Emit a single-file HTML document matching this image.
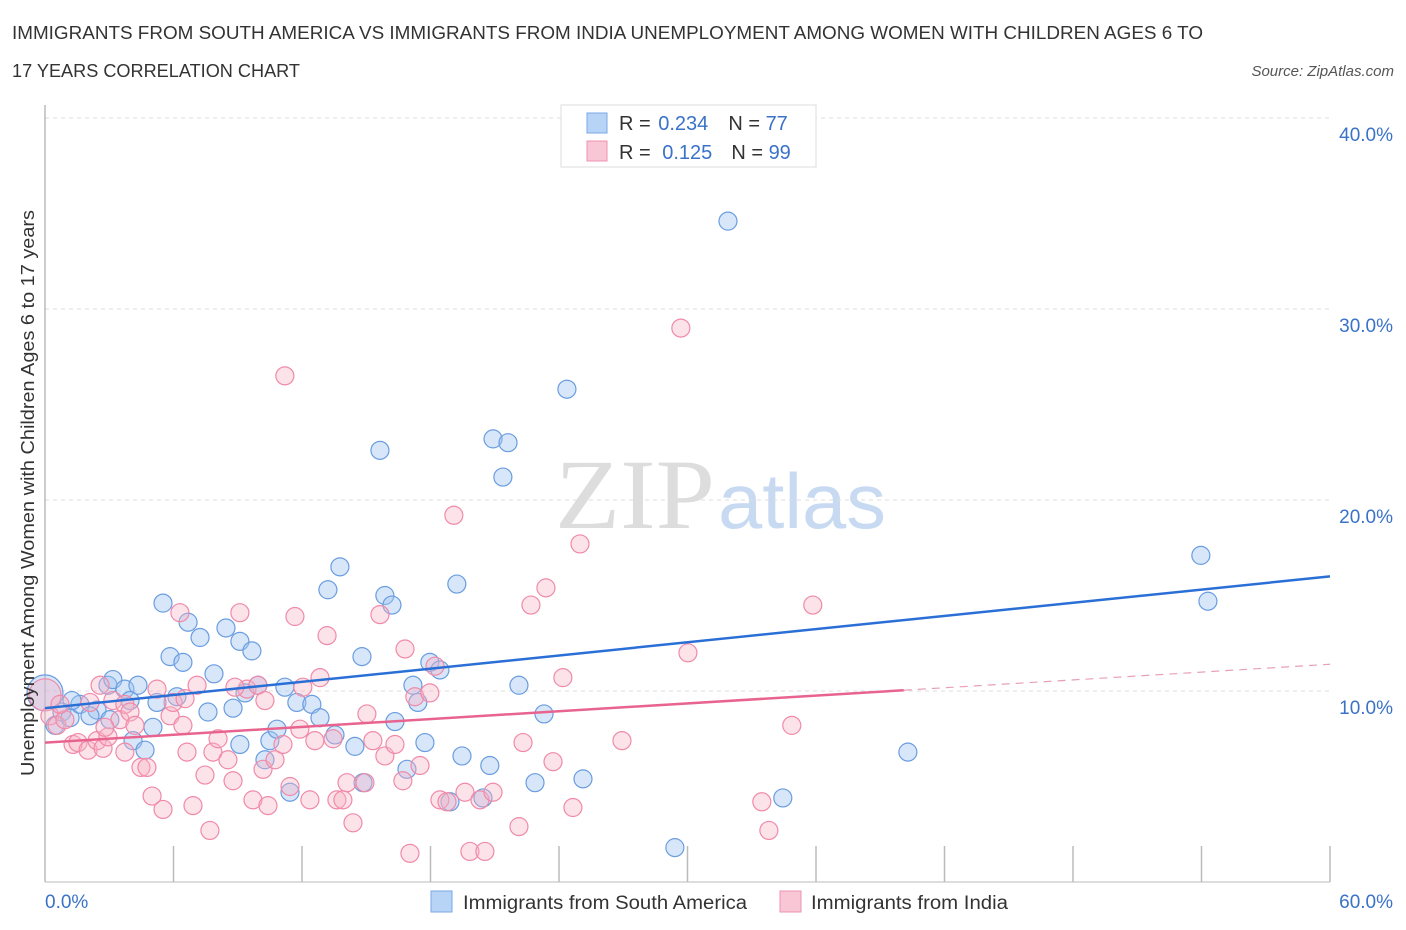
<!DOCTYPE html>
<html><head><meta charset="utf-8"><style>
body{margin:0;background:#fff;font-family:"Liberation Sans",sans-serif;}
svg{display:block}
</style></head><body>
<svg id="chart" width="1406" height="930" xmlns="http://www.w3.org/2000/svg">
<text x="12" y="39" font-size="18" fill="#333" textLength="1191" lengthAdjust="spacingAndGlyphs">IMMIGRANTS FROM SOUTH AMERICA VS IMMIGRANTS FROM INDIA UNEMPLOYMENT AMONG WOMEN WITH CHILDREN AGES 6 TO</text>
<text x="12" y="77" font-size="18" fill="#333" textLength="288" lengthAdjust="spacingAndGlyphs">17 YEARS CORRELATION CHART</text>
<text x="1394" y="76" font-size="15" fill="#555" font-style="italic" text-anchor="end">Source: ZipAtlas.com</text>
<text x="555" y="528" font-size="100" fill="#ddd" font-family="Liberation Serif,serif" textLength="160" lengthAdjust="spacingAndGlyphs">ZIP</text>
<text x="718" y="528" font-size="78" fill="#c8daf2" textLength="168" lengthAdjust="spacingAndGlyphs">atlas</text>
<g id="grid"></g>
<g id="pts"></g>
<g id="trend"></g>
<text transform="translate(34,493) rotate(-90)" font-size="18" fill="#333" text-anchor="middle" textLength="566" lengthAdjust="spacingAndGlyphs">Unemployment Among Women with Children Ages 6 to 17 years</text>
<g>
<rect x="561" y="105" width="255" height="62" fill="#fff" stroke="#ddd"/>
<rect x="587" y="113" width="20" height="20" fill="#b7d3f5" stroke="#7aa8e6"/>
<rect x="587" y="141" width="20" height="20" fill="#f9c6d5" stroke="#ee93b0"/>
<text x="619" y="130" font-size="20" fill="#333">R = <tspan fill="#3a72c8" dx="2">0.234</tspan><tspan dx="20">N = </tspan><tspan fill="#3a72c8">77</tspan></text>
<text x="619" y="159" font-size="20" fill="#333">R = <tspan fill="#3a72c8" dx="6">0.125</tspan><tspan dx="19">N = </tspan><tspan fill="#3a72c8">99</tspan></text>
</g>
<g>
<rect x="431" y="891" width="21" height="21" fill="#b7d3f5" stroke="#7aa8e6"/>
<text x="463" y="909" font-size="19" fill="#333" textLength="284" lengthAdjust="spacingAndGlyphs">Immigrants from South America</text>
<rect x="780" y="891" width="21" height="21" fill="#f9c6d5" stroke="#ee93b0"/>
<text x="811" y="909" font-size="19" fill="#333" textLength="197" lengthAdjust="spacingAndGlyphs">Immigrants from India</text>
</g>
</svg>
<script>
const yTicks=[10,20,30,40];
const xTickLabels=["0.0%","60.0%"];
const blueX=[0,0.47,0.79,1.17,1.63,2.43,2.94,3.17,3.73,4.34,4.11,4.67,5.04,5.23,5.51,5.84,6.16,6.44,6.68,7.24,7.61,7.89,8.45,8.78,9.1,9.34,9.66,9.94,10.5,10.83,10.27,11.2,11.44,11.76,12.46,12.84,13.21,13.54,13.77,14.47,14.85,14.8,15.64,15.87,16.2,16.34,16.9,17.18,17.41,17.74,17.97,18.44,18.91,19.23,19.47,20.45,20.77,20.92,21.62,21.38,22.13,22.88,23.3,24.37,25.12,29.41,31.89,34.45,40.29,53.97,54.3,3.97,2.1,3.03,1.26,9.1];
const blueY=[9.9,8.2,8.9,8.6,9.3,9.0,10.3,10.6,10.1,10.3,7.4,6.9,8.1,9.4,14.6,11.8,9.7,11.5,13.6,12.8,8.9,10.9,13.3,9.1,12.6,9.9,12.1,10.3,7.4,8.0,6.4,10.2,4.7,9.4,9.3,8.6,15.3,7.7,16.5,7.1,5.2,11.8,22.6,15.0,14.5,8.4,5.9,10.3,9.4,7.3,11.5,11.1,4.2,15.6,6.6,4.4,6.1,23.2,23.0,21.2,10.3,5.2,8.8,25.8,5.4,1.8,34.6,4.4,6.8,17.1,14.7,9.5,8.7,8.5,9.5,7.2];
const pinkX=[0,0.23,0.56,0.93,1.31,1.54,2.01,2.43,2.71,2.94,3.17,3.5,3.73,3.97,4.2,4.48,4.76,5.0,5.23,5.51,5.84,5.98,6.3,6.44,6.63,6.91,7.1,7.47,7.7,7.84,8.08,8.54,8.78,9.1,9.43,9.71,9.94,10.18,10.41,10.74,11.11,11.2,11.44,11.67,12.04,12.37,12.6,12.84,13.17,13.45,13.63,13.91,14.1,14.38,14.94,15.03,15.31,15.64,15.87,16.34,16.71,16.81,17.04,17.27,17.51,17.97,18.21,18.44,18.77,19.09,19.61,19.84,20.31,20.54,20.92,22.13,22.32,22.69,23.39,23.72,24.18,24.65,24.98,26.94,29.69,30.02,33.47,33.8,34.87,35.85,2.1,2.8,2.57,0.7,6.54,3.73,8.87,11.9,10.27];
const pinkY=[9.8,8.7,8.2,8.5,7.2,7.3,6.9,7.4,7.0,7.6,9.5,8.5,9.3,8.9,8.2,6.0,6.0,4.5,10.1,3.8,8.7,9.4,14.1,8.2,6.8,4.0,10.3,5.6,2.7,6.8,7.5,6.4,5.3,14.1,10.1,4.3,10.3,5.9,4.0,6.4,7.2,26.5,5.0,13.9,10.2,4.3,7.4,10.7,12.9,7.5,4.3,4.3,5.2,3.1,5.2,8.8,7.4,14.0,6.6,7.2,5.3,12.2,1.5,9.7,6.1,9.9,11.3,4.3,4.2,19.2,4.7,1.6,4.3,1.6,4.7,2.9,7.3,14.5,15.4,6.3,10.7,3.9,17.7,7.4,29.0,12.0,4.2,2.7,8.2,14.5,9.4,8.1,10.3,9.3,9.6,6.8,10.2,8.0,9.5];
const blueTrend=[9.1,16.0];
const pinkTrend=[7.3,11.4];
const pinkSolidEnd=40.1;
const X0=45,X1=1330,Y0=882,Y40=118;
const sx=v=>X0+(X1-X0)*v/60;
const sy=v=>Y0-(Y0-Y40)*v/40;
const NS="http://www.w3.org/2000/svg";
function mk(t,a,p){const e=document.createElementNS(NS,t);for(const k in a)e.setAttribute(k,a[k]);p.appendChild(e);return e;}
const grid=document.getElementById('grid');
yTicks.forEach(t=>{
 const l=mk('line',{x1:X0,x2:X1,y1:sy(t),y2:sy(t),stroke:'#ddd','stroke-dasharray':'4,4'},grid);
 
 
 const tx=mk('text',{x:1393,y:sy(t)+23,'font-size':19,fill:'#3a72c8','text-anchor':'end'},grid);
 tx.textContent=t.toFixed(1)+'%';
 
 
});
const ax=mk('line',{x1:X0,x2:X0,y1:105,y2:Y0,stroke:'#999'},grid);


const bx=mk('line',{x1:X0,x2:X1,y1:Y0,y2:Y0,stroke:'#bbb'},grid);


for(let i=0;i<=10;i++){
 const tk=mk('line',{x1:sx(i*6),x2:sx(i*6),y1:Y0-36,y2:Y0,stroke:'#bbb','stroke-width':1.5},grid);
 
 
}
const xl0=mk('text',{x:45,y:908,'font-size':19,fill:'#3a72c8'},grid);xl0.textContent=xTickLabels[0];


const xl1=mk('text',{x:1393,y:908,'font-size':19,fill:'#3a72c8','text-anchor':'end'},grid);xl1.textContent=xTickLabels[1];


const pts=document.getElementById('pts');
blueX.forEach((x,i)=>{
 const c=mk('circle',{cx:sx(x),cy:sy(blueY[i]),r:i===0?18:9,fill:'rgba(160,196,240,0.42)',stroke:'#6a9de0','stroke-width':1.2},pts);
 
 
});
pinkX.forEach((x,i)=>{
 const c=mk('circle',{cx:sx(x),cy:sy(pinkY[i]),r:i===0?16:9,fill:'rgba(248,178,198,0.38)',stroke:'#f08aa8','stroke-width':1.2},pts);
 
 
});
const tr=document.getElementById('trend');
const bl=mk('line',{x1:sx(0),y1:sy(blueTrend[0]),x2:sx(60),y2:sy(blueTrend[1]),stroke:'#2a6fd6','stroke-width':2.5},tr);


const pm=pinkTrend[0]+(pinkTrend[1]-pinkTrend[0])*pinkSolidEnd/60;
const pl=mk('line',{x1:sx(0),y1:sy(pinkTrend[0]),x2:sx(pinkSolidEnd),y2:sy(pm),stroke:'#e8648f','stroke-width':2.5},tr);


const pd=mk('line',{x1:sx(pinkSolidEnd),y1:sy(pm),x2:sx(60),y2:sy(pinkTrend[1]),stroke:'#e8a0b8','stroke-width':1.2,'stroke-dasharray':'8,6'},tr);


</script>
</body></html>
